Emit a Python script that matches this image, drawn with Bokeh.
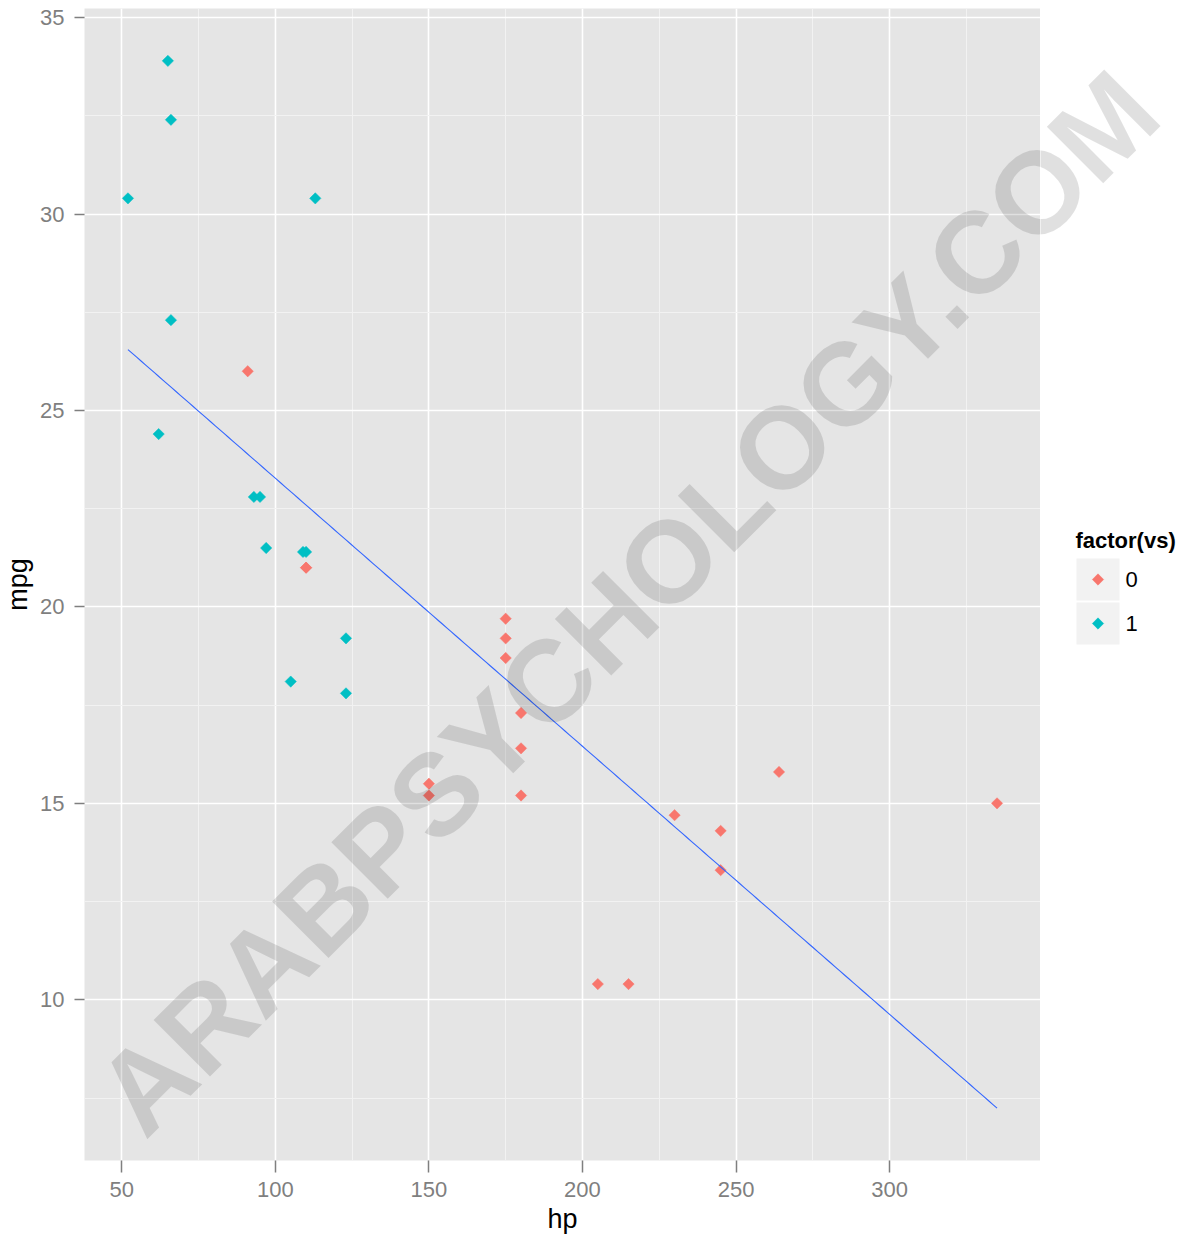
import numpy as np
from bokeh.plotting import figure
from bokeh.layouts import row
from bokeh.models import Range1d, SingleIntervalTicker, Label, ColumnDataSource
from bokeh.core.properties import value
from bokeh.embed import file_html
from bokeh.resources import INLINE

# mtcars: hp, mpg, vs
hp = [110, 110, 93, 110, 175, 105, 245, 62, 95, 123, 123, 180, 180, 180, 205, 215,
      230, 66, 52, 65, 97, 150, 150, 245, 175, 66, 91, 113, 264, 175, 335, 109]
mpg = [21.0, 21.0, 22.8, 21.4, 18.7, 18.1, 14.3, 24.4, 22.8, 19.2, 17.8, 16.4, 17.3,
       15.2, 10.4, 10.4, 14.7, 32.4, 30.4, 33.9, 21.5, 15.5, 15.2, 13.3, 19.2, 27.3,
       26.0, 30.4, 15.8, 19.7, 15.0, 21.4]
vs = [0, 0, 1, 1, 0, 1, 0, 1, 1, 1, 1, 0, 0, 0, 0, 0,
      0, 1, 1, 1, 1, 0, 0, 0, 0, 1, 0, 1, 0, 0, 0, 1]
levels = ["0", "1"]
level_colors = ["#F8766D", "#00BFC4"]
legend_title = "factor(vs)"
x_tick_interval = 50
y_tick_interval = 5
watermark = "ARABPSYCHOLOGY.COM"

FONT = "Liberation Sans"
PANEL = "#E5E5E5"
KEYBG = "#F2F2F2"

# page layout (pixels)
W, H = 1185, 1238
FL, FR, FT, FB = 84, 1040, 8, 1160       # plotting panel edges
WM_X, WM_Y = 627, 602                     # watermark baseline centre on page

hp_a = np.array(hp, dtype=float)
mpg_a = np.array(mpg, dtype=float)
vs_a = np.array(vs)

# regression line (lm mpg ~ hp)
slope, intercept = np.polyfit(hp_a, mpg_a, 1)
line_x = np.linspace(hp_a.min(), hp_a.max(), 200)
line_y = intercept + slope * line_x

# ggplot-like expanded ranges
xmin, xmax = hp_a.min(), hp_a.max()
xpad = 0.05 * (xmax - xmin)
ylo = min(mpg_a.min(), line_y.min())
yhi = max(mpg_a.max(), line_y.max())
ypad = 0.05 * (yhi - ylo)
x0, x1 = xmin - xpad, xmax + xpad
y0, y1 = ylo - ypad, yhi + ypad

p = figure(width=FR, height=H, output_backend="svg", toolbar_location=None,
           x_range=Range1d(x0, x1), y_range=Range1d(y0, y1),
           min_border_left=FL, min_border_right=0, min_border_top=FT,
           min_border_bottom=H - FB)
p.background_fill_color = PANEL
p.border_fill_color = "white"
p.outline_line_color = None

p.xaxis.ticker = SingleIntervalTicker(interval=x_tick_interval, num_minor_ticks=2)
p.yaxis.ticker = SingleIntervalTicker(interval=y_tick_interval, num_minor_ticks=2)

p.xgrid.grid_line_color = "white"
p.ygrid.grid_line_color = "white"
p.xgrid.grid_line_width = 1.6
p.ygrid.grid_line_width = 1.6
p.xgrid.minor_grid_line_color = KEYBG
p.ygrid.minor_grid_line_color = KEYBG
p.xgrid.minor_grid_line_width = 1
p.ygrid.minor_grid_line_width = 1

for ax in (p.xaxis[0], p.yaxis[0]):
    ax.axis_line_color = None
    ax.major_tick_line_color = "#7F7F7F"
    ax.major_tick_line_width = 1.5
    ax.major_tick_in = 0
    ax.minor_tick_in = 0
    ax.minor_tick_out = 0
    ax.major_label_text_color = "#7F7F7F"
    ax.major_label_text_font = FONT
    ax.major_label_text_font_size = "22px"
    ax.axis_label_text_font = FONT
    ax.axis_label_text_font_size = "27px"
    ax.axis_label_text_font_style = "normal"
    ax.axis_label_text_color = "black"

p.xaxis.major_tick_out = 12
p.yaxis.major_tick_out = 10
p.xaxis.major_label_standoff = 9
p.yaxis.major_label_standoff = 10
p.xaxis.axis_label = "hp"
p.yaxis.axis_label = "mpg"
p.xaxis.axis_label_standoff = 4
p.yaxis.axis_label_standoff = 4

# points
for lv, col in zip(levels, level_colors):
    mask = vs_a == int(lv)
    src = ColumnDataSource(dict(x=hp_a[mask], y=mpg_a[mask]))
    p.scatter("x", "y", source=src, marker="square", angle=np.pi / 4, size=8,
              fill_color=col, line_color=col, line_width=0.5)

# regression line
p.line(line_x, line_y, line_color="#3366FF", line_width=1.1)

# watermark (panel part)
wm_style = dict(text=watermark, angle=np.pi / 4, text_align="center",
                text_baseline="alphabetic", text_font=FONT, text_font_size="116px",
                text_font_style="bold", text_color="black", text_alpha=0.12)
wm_dx = x0 + (WM_X - FL) / (FR - FL) * (x1 - x0)
wm_dy = y1 - (WM_Y - FT) / (FB - FT) * (y1 - y0)
p.add_layout(Label(x=wm_dx, y=wm_dy, **wm_style))

# legend panel: a figure in page-pixel coordinates (y measured upward from page bottom);
# in a row its frame is aligned with the main panel (FT..FB vertically)
lg = figure(width=W - FR, height=H, output_backend="svg", toolbar_location=None,
            x_range=Range1d(FR, W), y_range=Range1d(H - FB, H - FT),
            x_axis_type=None, y_axis_type=None,
            min_border_left=0, min_border_right=0, min_border_top=FT,
            min_border_bottom=H - FB)
lg.outline_line_color = None
lg.background_fill_color = "white"
lg.border_fill_color = "white"

KEY_L, KEY_W, KEY_H, KEY_GAP, KEY_TOP = 1076, 43, 42, 2, 558
n = len(levels)
key_cy = [H - (KEY_TOP + KEY_H / 2 + i * (KEY_H + KEY_GAP)) for i in range(n)]
key_cx = [KEY_L + KEY_W / 2] * n

lg.rect(x=key_cx, y=key_cy, width=KEY_W, height=KEY_H, fill_color=KEYBG,
        line_color=None)
lg.scatter(x=key_cx, y=key_cy, marker="square", angle=np.pi / 4, size=8,
           fill_color=level_colors, line_color=level_colors, line_width=0.5)
lg.text(x=[KEY_L + KEY_W + 6] * n, y=key_cy, text=levels,
        text_font=value(FONT), text_font_size="22px", text_color="black",
        text_align="left", text_baseline="middle")
lg.text(x=[KEY_L - 1], y=[H - 540], text=[legend_title],
        text_font=value(FONT), text_font_size="22px", text_font_style="bold",
        text_color="black", text_align="left", text_baseline="middle")

# watermark (continuation over the legend area)
lg.add_layout(Label(x=WM_X, y=H - WM_Y, **wm_style))

layout = row(p, lg, spacing=0)
open("out.html", "w").write(file_html(layout, INLINE))
